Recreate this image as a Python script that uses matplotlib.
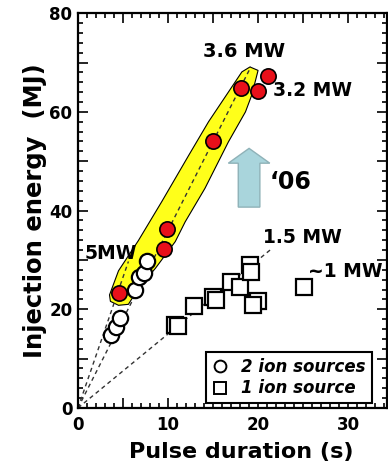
import numpy as np
import matplotlib
matplotlib.use('Agg')
import matplotlib.pyplot as plt
from matplotlib.lines import Line2D
from matplotlib.patches import Polygon, FancyArrow
from matplotlib.ticker import MultipleLocator, FuncFormatter

plt.rcParams['font.family'] = ['DejaVu Sans']
plt.rcParams['font.weight'] = 'bold'

# red circles (2006, inside the yellow band)
red_x = [4.5, 9.5, 9.85, 15.0, 18.1, 20.0, 21.1]
red_y = [23.3, 32.3, 36.2, 54.0, 64.9, 64.2, 67.2]

# open circles: 2 ion sources
circ_x = [3.7, 4.2, 4.7, 6.3, 6.8, 7.3, 7.7]
circ_y = [14.8, 16.5, 18.2, 23.9, 26.6, 27.3, 29.8]

# open squares: 1 ion source
sq_x = [10.8, 11.1, 12.9, 15.0, 15.3, 17.0, 18.0, 19.1, 19.2, 20.0, 19.4, 25.1]
sq_y = [16.8, 16.7, 20.6, 22.5, 21.8, 25.6, 24.5, 29.0, 27.5, 21.6, 20.8, 24.6]

# constant-power guide lines (slope MW, end of line in s)
guide_power = [5.3, 3.6, 1.5]
guide_end = [5.6, 19.2, 21.5]

# yellow band outline
band_x = [3.5, 4.5, 6.7, 9.3, 12.3, 14.5, 16.7, 18.2, 19.1, 20.0, 19.3, 18.6,
          16.7, 14.1, 11.9, 10.8, 8.6, 6.7, 5.6, 4.5, 3.6]
band_y = [22.9, 27.8, 33.9, 41.8, 51.2, 58.0, 64.0, 68.1, 69.1, 68.4, 63.4, 60.0,
          53.9, 44.5, 37.7, 33.7, 28.3, 24.2, 21.0, 20.8, 21.6]

fig = plt.figure(figsize=(3.88, 4.70), dpi=100)
ax = fig.add_axes([0.201, 0.132, 0.796, 0.840])

ax.add_patch(Polygon(np.column_stack([band_x, band_y]), closed=True,
                     facecolor='#ffff1a', edgecolor='black', lw=0.8, zorder=1))

for p, xe in zip(guide_power, guide_end):
    gx = np.array([0, xe])
    ax.plot(gx, p * gx, ls=(0, (3, 2.5)), color='#333333', lw=1.0, zorder=2)

ax.add_patch(FancyArrow(19.0, 40.7, 0, 8.9, width=2.4, head_width=4.6,
                        head_length=3.0, length_includes_head=False,
                        facecolor='#a9d5dc', edgecolor='#8fb2b8', lw=1.0, zorder=2))

ax.plot(sq_x, sq_y, 's', ms=11, mfc='white', mec='black', mew=1.6, zorder=3)
ax.plot(circ_x, circ_y, 'o', ms=11, mfc='white', mec='black', mew=1.6, zorder=4)
ax.plot(red_x, red_y, 'o', ms=11, mfc='#e8101a', mec='black', mew=1.2, zorder=5)

ax.text(18.4, 72.3, '3.6 MW', fontsize=14, fontweight='bold', ha='center', va='center')
ax.text(21.7, 64.4, '3.2 MW', fontsize=13.5, fontweight='bold', ha='left', va='center')
ax.text(21.3, 45.8, '\u201806', fontsize=17, fontweight='bold', ha='left', va='center')
ax.text(6.5, 31.3, '5MW', fontsize=13.5, fontweight='bold', ha='right', va='center')
ax.text(20.6, 34.6, '1.5 MW', fontsize=13.5, fontweight='bold', ha='left', va='center')
ax.text(25.6, 27.6, '~1 MW', fontsize=13.5, fontweight='bold', ha='left', va='center',
        clip_on=False)

handles = [Line2D([], [], marker='o', ls='none', ms=8.5, mfc='white', mec='black', mew=1.4),
           Line2D([], [], marker='s', ls='none', ms=8.5, mfc='white', mec='black', mew=1.4)]
leg = ax.legend(handles, ['2 ion sources', '1 ion source'], loc='lower right',
                bbox_to_anchor=(0.951, 0.012), fancybox=False, framealpha=1,
                edgecolor='black', borderpad=0.35, labelspacing=0.2,
                handletextpad=0.8, handlelength=1.0, borderaxespad=0,
                prop={'size': 12, 'weight': 'bold', 'style': 'italic'})
leg.get_frame().set_linewidth(1.5)
leg.set_zorder(6)

ax.set_xlim(0, 34.3)
ax.set_ylim(0, 80)
ax.xaxis.set_major_locator(MultipleLocator(5))
ax.xaxis.set_minor_locator(MultipleLocator(1))
ax.yaxis.set_major_locator(MultipleLocator(10))
ax.yaxis.set_minor_locator(MultipleLocator(2))
ax.xaxis.set_major_formatter(FuncFormatter(lambda v, p: '%d' % v if v % 10 == 0 else ''))
ax.yaxis.set_major_formatter(FuncFormatter(lambda v, p: '%d' % v if v % 20 == 0 else ''))
ax.tick_params(which='both', direction='in', top=True, right=True, width=1.2)
ax.tick_params(which='major', length=7)
ax.tick_params(which='minor', length=3.6)
ax.tick_params(axis='x', pad=6, labelsize=12)
ax.tick_params(axis='y', pad=4, labelsize=12)
for s in ax.spines.values():
    s.set_linewidth(1.6)

ax.set_xlabel('Pulse duration (s)', fontsize=16, fontweight='bold')
ax.xaxis.set_label_coords(0.527, -0.085)
ax.set_ylabel('Injection energy  (MJ)', fontsize=17.5, fontweight='bold', labelpad=2)

fig.savefig('out.png', dpi=100)
